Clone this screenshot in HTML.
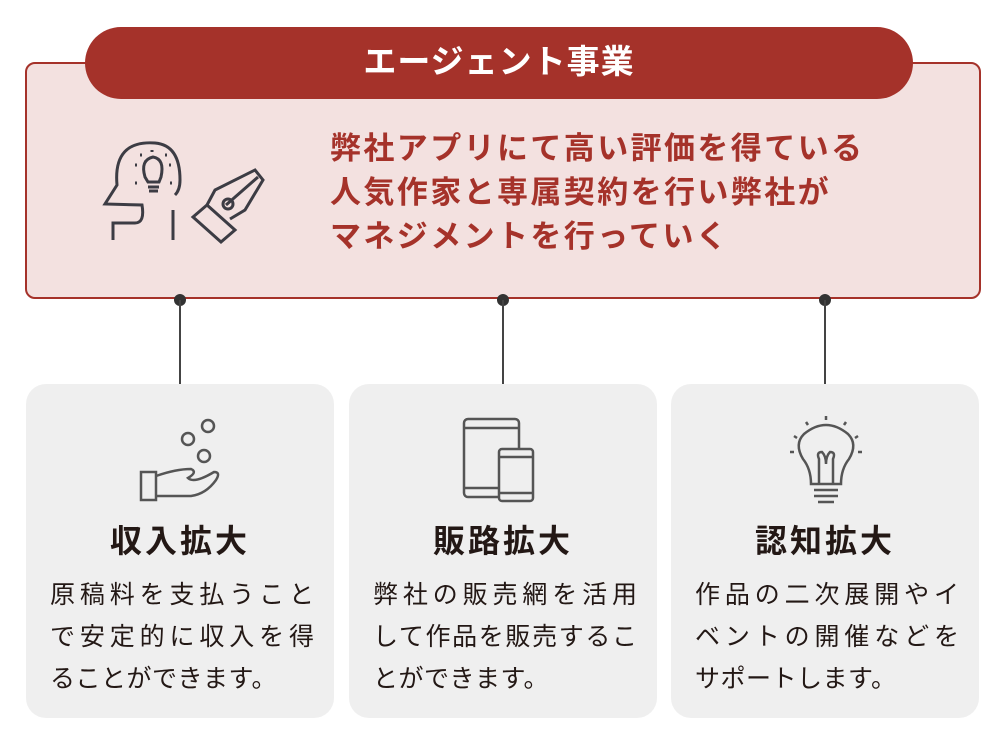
<!DOCTYPE html>
<html><head><meta charset="utf-8"><style>
body{margin:0;width:1000px;height:752px;background:#fff;position:relative;font-family:"Liberation Sans","Noto Sans CJK JP",sans-serif;overflow:hidden}
.main{position:absolute;left:25px;top:62px;width:952px;height:233px;background:#f3e1e0;border:2px solid #a5322a;border-radius:10px}
.pill{position:absolute;left:85px;top:27px;width:828px;height:72px;background:#a5322a;border-radius:36px;color:#fff;font-weight:bold;font-size:33px;text-align:center;line-height:70px;letter-spacing:1px}
.lead{position:absolute;left:330px;top:127px;color:#a5322a;font-weight:bold;font-size:31px;line-height:44px;letter-spacing:2.4px}
.dot{position:absolute;width:12px;height:12px;border-radius:50%;background:#333;top:294px}
.vl{position:absolute;width:2px;background:#444;top:300px;height:84px}
.card{position:absolute;top:384px;width:308px;height:334px;background:#efefef;border-radius:20px}
.t{position:absolute;left:0;width:100%;top:132px;text-align:center;font-size:32px;font-weight:bold;color:#231815;letter-spacing:3px}
.b{position:absolute;left:24px;top:190px;width:264px;font-size:25px;line-height:42px;color:#231815;white-space:nowrap}
.b div{text-align:justify;text-align-last:justify}
.b div.l{text-align-last:left;letter-spacing:0.5px}
svg{position:absolute}
</style></head><body>
<div class="main"></div>
<div class="pill">エージェント事業</div>
<svg style="left:95px;top:135px" width="180" height="115" viewBox="0 0 180 115" fill="none" stroke="#3c3c44" stroke-width="3">
<path d="M18 105 V88 H40 Q50 88 47 70 L10 69 L22 50 Q18 5 60 8 Q85 10 85 45 Q85 55 80 60"/>
<path d="M78 75 V105"/>
<path d="M50 42 Q45 25 58 22 Q70 24 66 42 L64 47 H53 Z"/><path d="M53 52H64M54 56H63"/>
<path d="M40 30h2M45 20h2M57 15v2M70 20h2M74 30h2M40 48h2M75 48h2" stroke-width="3"/>
<path d="M98 82 L112 70 L140 95 L126 107 Z"/>
<path d="M112 70 L120 55 L160 35 L168 45 L150 75 L135 84"/><path d="M131 70 L163 42"/><circle cx="133" cy="69" r="5"/>
</svg>
<div class="lead">弊社アプリにて高い評価を得ている<br>人気作家と専属契約を行い弊社が<br>マネジメントを行っていく</div>
<div class="dot" style="left:174px"></div><div class="vl" style="left:179px"></div>
<div class="dot" style="left:497px"></div><div class="vl" style="left:502px"></div>
<div class="dot" style="left:819px"></div><div class="vl" style="left:824px"></div>

<div class="card" style="left:26px">
<svg style="left:110px;top:30px" width="90" height="90" viewBox="0 0 90 90" fill="none" stroke="#555" stroke-width="2.5">
<circle cx="72" cy="12" r="6"/><circle cx="52" cy="25" r="6"/><circle cx="68" cy="42" r="6"/>
<rect x="5" y="58" width="15" height="28"/><path d="M20 62 Q40 55 55 55 Q62 58 52 64 Q58 70 78 58 Q85 58 80 66 Q70 80 55 82 H20"/>
</svg>
<div class="t">収入拡大</div>
<div class="b"><div>原稿料を支払うこと</div><div>で安定的に収入を得</div><div class="l">ることができます。</div></div>
</div>
<div class="card" style="left:349px">
<svg style="left:110px;top:30px" width="90" height="90" viewBox="0 0 90 90" fill="none" stroke="#555" stroke-width="2.5">
<rect x="5" y="5" width="55" height="78" rx="4"/><path d="M5 14H60M5 74H40"/>
<rect x="40" y="35" width="34" height="52" rx="3" fill="#efefef"/><path d="M40 43H74M40 79H74"/>
</svg>
<div class="t">販路拡大</div>
<div class="b"><div>弊社の販売網を活用</div><div>して作品を販売するこ</div><div class="l">とができます。</div></div>
</div>
<div class="card" style="left:671px">
<svg style="left:115px;top:30px" width="80" height="95" viewBox="0 0 80 95" fill="none" stroke="#555" stroke-width="2.5">
<path d="M25 70 Q25 55 17 45 Q8 30 18 20 Q40 2 62 20 Q72 30 63 45 Q55 55 55 70 Z"/>
<path d="M33 70V45 Q30 38 36 38 Q40 42 40 50 Q40 42 44 38 Q50 38 47 45V70"/>
<path d="M28 76H52M28 82H52M32 88H48"/>
<path d="M40 2v4M20 8l2 3M60 8l-2 3M8 22l3 2M72 22l-3 2M4 38h4M72 38h4"/>
</svg>
<div class="t">認知拡大</div>
<div class="b"><div>作品の二次展開やイ</div><div>ベントの開催などを</div><div class="l">サポートします。</div></div>
</div>
</body></html>
